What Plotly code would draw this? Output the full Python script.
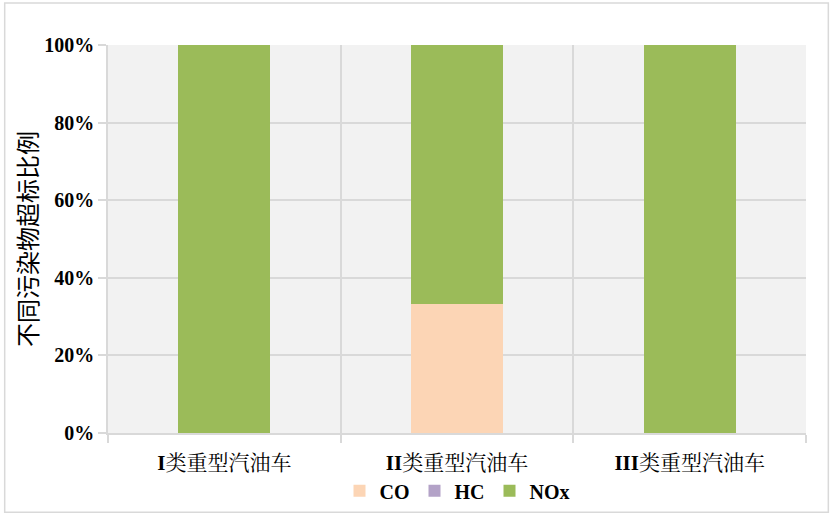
import plotly.graph_objects as go

category_prefix = ["I", "II", "III"]
category_suffix = "类重型汽油车"
categories = [p + category_suffix for p in category_prefix]
co_share = [0.0, 0.333, 0.0]
hc_share = [0.0, 0.0, 0.0]
nox_share = [1.0, 0.667, 1.0]
y_ticks = [0, 0.2, 0.4, 0.6, 0.8, 1.0]

_COLORS = {"CO": "#FCD5B5", "HC": "#B3A2C7", "NOx": "#9BBB59"}
_FONT = "Liberation Serif, Noto Serif CJK SC, Noto Sans CJK SC, serif"
_GRID = "#D9D9D9"

fig = go.Figure()
for name, vals in [("CO", co_share), ("HC", hc_share), ("NOx", nox_share)]:
    fig.add_trace(go.Bar(
        x=categories,
        y=vals,
        name=name,
        marker=dict(color=_COLORS[name], line=dict(width=0)),
        width=0.395,
    ))

fig.update_layout(
    barmode="stack",
    width=837,
    height=518,
    paper_bgcolor="white",
    plot_bgcolor="#F2F2F2",
    margin=dict(l=108, r=31, t=45, b=85, autoexpand=False),
    font=dict(family=_FONT, size=20, color="#000000"),
    showlegend=True,
    legend=dict(
        orientation="h",
        x=0.5, xanchor="center",
        y=-0.149, yanchor="middle",
        bgcolor="rgba(0,0,0,0)",
        font=dict(family=_FONT, size=20, weight="bold"),
        itemwidth=30,
        traceorder="normal",
    ),
    xaxis=dict(
        type="category",
        categoryorder="array",
        categoryarray=categories,
        tickvals=categories,
        ticktext=[f"<b>{p}</b>{category_suffix}" for p in category_prefix],
        tickson="boundaries",
        showgrid=True,
        gridcolor=_GRID,
        gridwidth=1.5,
        ticks="outside",
        ticklen=8,
        tickcolor=_GRID,
        tickwidth=1.5,
        showline=True,
        linecolor=_GRID,
        linewidth=1.5,
        ticklabelstandoff=10,
        tickfont=dict(family=_FONT, size=21),
    ),
    yaxis=dict(
        range=[0, 1],
        tickvals=y_ticks,
        tickformat=".0%",
        showgrid=True,
        gridcolor=_GRID,
        gridwidth=1.5,
        ticks="outside",
        ticklen=8,
        tickcolor=_GRID,
        tickwidth=1.5,
        zeroline=False,
        showline=True,
        linecolor=_GRID,
        linewidth=1.5,
        tickfont=dict(family="Liberation Serif, serif", size=20, weight="bold"),
    ),
    annotations=[dict(
        text="不同污染物超标比例",
        xref="paper", yref="paper",
        x=-0.1175, y=0.5,
        xanchor="center", yanchor="middle",
        textangle=-90, showarrow=False,
        font=dict(family="Noto Sans CJK SC", size=24, color="#000000"),
    )],
    shapes=[dict(
        type="rect", xref="paper", yref="paper",
        x0=-0.148, x1=1.032, y0=-0.204, y1=1.108,
        line=dict(color=_GRID, width=1.5),
        fillcolor="rgba(0,0,0,0)", layer="below",
    )],
)

# page body has a default 8px margin; drop it so the figure sits at the corner
fig.write_html(
    "out.html",
    config={"displayModeBar": False},
    post_script="document.body.style.margin='0';",
)
